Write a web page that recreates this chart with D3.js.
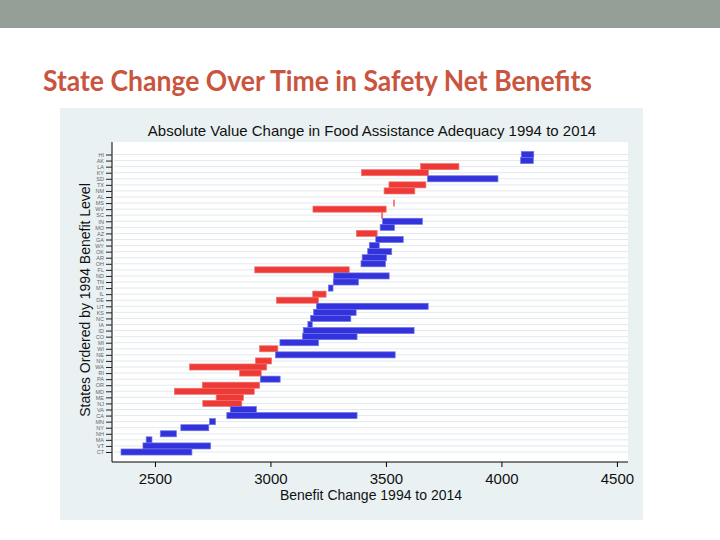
<!DOCTYPE html>
<html>
<head>
<meta charset="utf-8">
<script src="https://cdn.jsdelivr.net/npm/d3@7"></script>
<style>
  body { margin: 0; background: #fff; }
</style>
</head>
<body>
<svg id="chart" width="720" height="540"></svg>
<script>
// states, ordered by 1994 benefit level (top = highest)
const states = ["HI","AK","LA","KY","SD","TX","NM","AL","MS","WV","SC","IN","MO","AZ","GA","WY","OK","AR","OH","FL",
  "ND","TN","MT","IL","DE","UT","KS","NC","IA","ID","CO","MI","WI","NE","NV","WA","RI","PA","OR","MD",
  "ME","NJ","VA","CA","MN","NY","NH","MA","VT","CT"];

// benefit level in 1994 and 2014
const v1994 = [4086,4083,3816,3684,3680,3673,3625,3583,3537,3501,3486,3485,3475,3462,3456,3428,3421,3397,3392,3341,
  3274,3272,3251,3241,3208,3199,3187,3174,3162,3142,3139,3041,3032,3022,3005,2984,2960,2956,2953,2930,
  2883,2876,2826,2811,2736,2612,2523,2462,2448,2353];
const v2014 = [4140,4138,3650,3394,3985,3513,3492,3583,3533,3184,3481,3658,3537,3372,3575,3471,3525,3502,3498,2932,
  3514,3381,3271,3183,3026,3683,3371,3348,3181,3622,3375,3208,2953,3540,2935,2650,2866,3042,2705,2584,
  2765,2707,2939,3375,2762,2733,2593,2487,2741,2660];

const xTicks = [2500, 3000, 3500, 4000, 4500];

const svg = d3.select("#chart");
const chartFont = "'Liberation Sans', Arial, sans-serif";

// -- slide background -- //
svg.append("rect").attr("x", 0).attr("y", 0).attr("width", 720).attr("height", 28).attr("fill", "#939f97");

svg.append("text")
  .attr("x", 43).attr("y", 91)
  .attr("textLength", 549).attr("lengthAdjust", "spacingAndGlyphs")
  .attr("font-family", "Lato, 'Open Sans', sans-serif")
  .attr("font-weight", "bold")
  .attr("font-size", 28)
  .attr("fill", "#c9553f")
  .text("State Change Over Time in Safety Net Benefits");

// -- chart picture -- //
svg.append("rect").attr("x", 60).attr("y", 108).attr("width", 583).attr("height", 412).attr("fill", "#eaf1f3");

const plot = { left: 112, right: 628, top: 142, bottom: 462 };

svg.append("rect")
  .attr("x", plot.left).attr("y", plot.top)
  .attr("width", plot.right - plot.left).attr("height", plot.bottom - plot.top)
  .attr("fill", "#fff");

var x = d3.scaleLinear().domain([2314, 4548]).range([plot.left, plot.right]);
var y = d3.scalePoint().domain(states).range([154.5, 452]);
var rowH = y.step();

// gridlines
svg.append("g")
  .selectAll("line")
  .data(states)
  .enter()
  .append("line")
  .attr("x1", plot.left + 2).attr("x2", plot.right)
  .attr("y1", d => y(d)).attr("y2", d => y(d))
  .attr("stroke", "#e3eaed").attr("stroke-width", 1);

// bars
svg.append("g")
  .selectAll("rect")
  .data(states)
  .enter()
  .append("rect")
  .attr("x", (d, i) => x(Math.min(v1994[i], v2014[i])))
  .attr("width", (d, i) => Math.abs(x(v2014[i]) - x(v1994[i])))
  .attr("y", d => y(d) - rowH / 2)
  .attr("height", rowH)
  .attr("fill", (d, i) => v2014[i] >= v1994[i] ? "#3333dd" : "#ee3a36")
  .attr("stroke", (d, i) => v2014[i] >= v1994[i] ? "#6f74e6" : "#f27370")
  .attr("stroke-width", 0.7);

// x axis
var xAxis = svg.append("g")
  .attr("transform", "translate(0," + plot.bottom + ")")
  .call(d3.axisBottom(x).tickValues(xTicks).tickSize(5).tickPadding(6).tickFormat(d3.format("d")));
xAxis.select(".domain").attr("stroke", "#000").attr("d", "M" + plot.left + ",0H" + plot.right);
xAxis.selectAll("text").attr("font-family", chartFont).attr("font-size", 15).attr("fill", "#111");

// y axis
var yAxis = svg.append("g")
  .attr("transform", "translate(" + plot.left + ",0)")
  .call(d3.axisLeft(y).tickSize(6).tickPadding(2));
yAxis.select(".domain").attr("stroke", "#000").attr("d", "M0," + plot.top + "V" + plot.bottom);
yAxis.selectAll(".tick line").attr("stroke", "#222");
yAxis.selectAll("text").attr("font-family", chartFont).attr("font-size", 5.5).attr("fill", "#666");

// titles
svg.append("text")
  .attr("x", 372).attr("y", 136)
  .attr("text-anchor", "middle")
  .attr("font-family", chartFont).attr("font-size", 15).attr("fill", "#111")
  .text("Absolute Value Change in Food Assistance Adequacy 1994 to 2014");

svg.append("text")
  .attr("x", 371).attr("y", 500)
  .attr("text-anchor", "middle")
  .attr("font-family", chartFont).attr("font-size", 14).attr("fill", "#111")
  .text("Benefit Change 1994 to 2014");

svg.append("text")
  .attr("transform", "translate(90,300) rotate(-90)")
  .attr("text-anchor", "middle")
  .attr("font-family", chartFont).attr("font-size", 14).attr("fill", "#111")
  .text("States Ordered by 1994 Benefit Level");
</script>
</body>
</html>
